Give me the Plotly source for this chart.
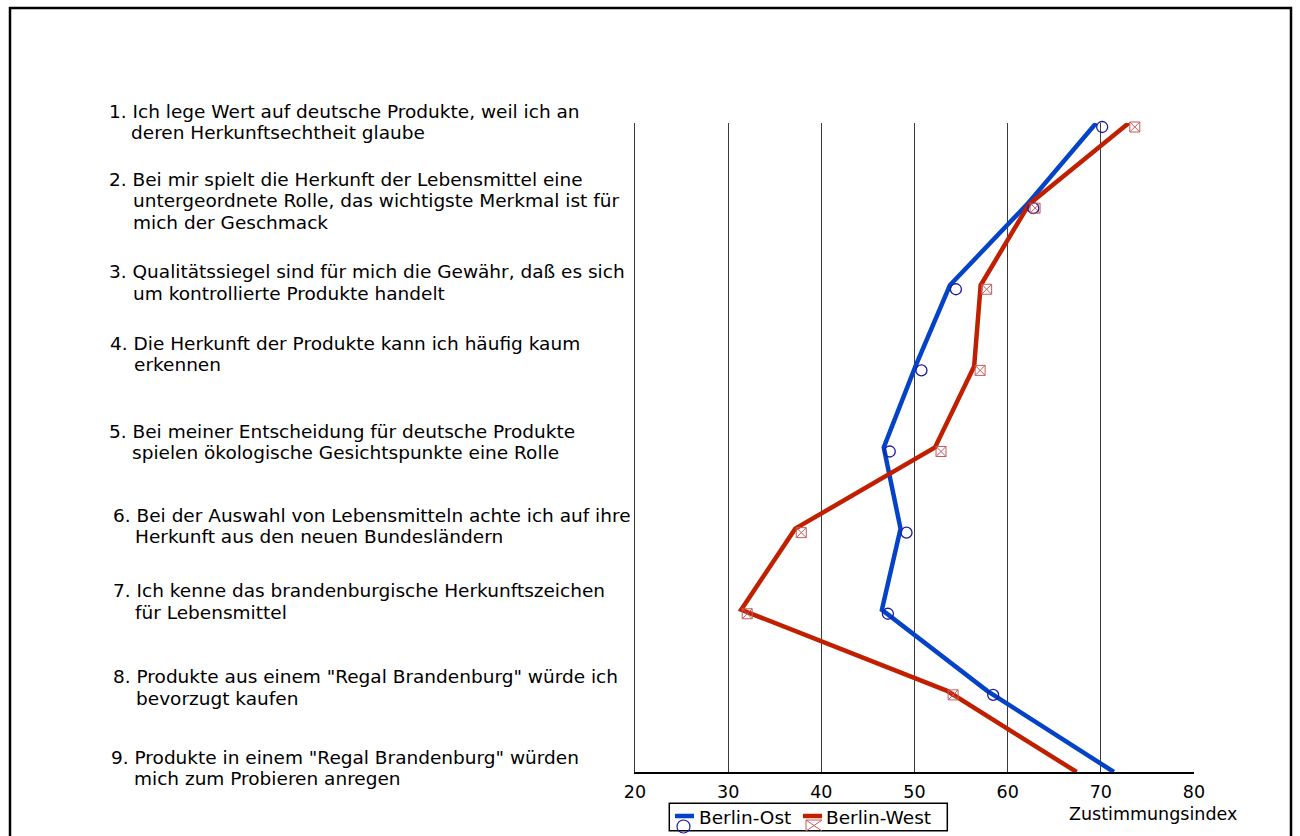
import plotly.graph_objects as go

# Statement numbers (plotted top to bottom) and agreement index per group
statement_no = [1, 2, 3, 4, 5, 6, 7, 8, 9]
berlin_ost = [69.5, 62.1, 53.8, 50.1, 46.7, 48.5, 46.5, 57.8, 71.4]
berlin_west = [73.0, 62.3, 57.1, 56.4, 52.2, 37.2, 31.4, 53.5, 67.4]
x_ticks = [20, 30, 40, 50, 60, 70, 80]
x_title = "Zustimmungsindex"
series_names = ["Berlin-Ost", "Berlin-West"]

statements = [
    ["1. Ich lege Wert auf deutsche Produkte, weil ich an", "deren Herkunftsechtheit glaube"],
    ["2. Bei mir spielt die Herkunft der Lebensmittel eine",
     "untergeordnete Rolle, das wichtigste Merkmal ist für", "mich der Geschmack"],
    ["3. Qualitätssiegel sind für mich die Gewähr, daß es sich", "um kontrollierte Produkte handelt"],
    ["4. Die Herkunft der Produkte kann ich häufig kaum", "erkennen"],
    ["5. Bei meiner Entscheidung für deutsche Produkte", "spielen ökologische Gesichtspunkte eine Rolle"],
    ["6. Bei der Auswahl von Lebensmitteln achte ich auf ihre", "Herkunft aus den neuen Bundesländern"],
    ["7. Ich kenne das brandenburgische Herkunftszeichen", "für Lebensmittel"],
    ["8. Produkte aus einem \"Regal Brandenburg\" würde ich", "bevorzugt kaufen"],
    ["9. Produkte in einem \"Regal Brandenburg\" würden", "mich zum Probieren anregen"],
]

# ---- layout geometry (pixels) ----
W, H = 1300, 836
L, R, T, B = 635, 106, 123, 64
PW, PH = W - L - R, H - T - B

def px_x(x):
    return (x - L) / PW

def px_y(y):
    return (H - B - y) / PH

FONT = "DejaVu Sans"
BLUE = "#0443c8"
RED = "#c01f00"
OST_MARK = "#1b1ba8"
WEST_MARK = "#c85a5a"
series_colors = [BLUE, RED]

# text block placement: first-line centre y, first-line x, continuation x
stmt_y = [111, 179, 271.7, 343.3, 431, 515, 590.7, 676.7, 757.3]
stmt_x = [106.7, 107.3, 107.3, 108.3, 106.7, 110.7, 110.7, 110.7, 108.7]
cont_x = [129, 130.7, 130.7, 131.7, 130, 133.3, 133.3, 134, 132.3]
line_gap = 21.5

fig = go.Figure()

for vals, name, col in zip([berlin_ost, berlin_west], series_names, series_colors):
    fig.add_trace(go.Scatter(x=vals, y=statement_no, mode="lines", name=name,
                             line=dict(color=col, width=4.5), cliponaxis=False))

# point markers sit slightly right of / below each vertex (drawn on offset overlay axes)
fig.add_trace(go.Scatter(x=berlin_ost, y=statement_no, mode="markers", showlegend=False,
                         xaxis="x2", yaxis="y2", cliponaxis=False,
                         marker=dict(symbol="circle-open", size=11, color=OST_MARK,
                                     line=dict(width=1.3, color=OST_MARK))))
fig.add_trace(go.Scatter(x=berlin_west, y=statement_no, mode="markers", showlegend=False,
                         xaxis="x2", yaxis="y2", cliponaxis=False,
                         marker=dict(symbol="square-x-open", size=10, color=WEST_MARK,
                                     line=dict(width=1, color=WEST_MARK))))

dx = 6 * 60 / PW
dy = 4 * 8 / PH

annotations = []
for i, lines in enumerate(statements):
    for j, txt in enumerate(lines):
        annotations.append(dict(
            x=px_x(stmt_x[i] if j == 0 else cont_x[i]), y=px_y(stmt_y[i] + j * line_gap),
            xref="paper", yref="paper", xanchor="left", yanchor="middle",
            text=txt, showarrow=False, font=dict(family=FONT, size=18.5, color="black")))

annotations.append(dict(x=px_x(1153.3), y=px_y(813.5), xref="paper", yref="paper",
                        xanchor="center", yanchor="middle", text=x_title, showarrow=False,
                        font=dict(family=FONT, size=17.5, color="black")))

shapes = [dict(type="rect", xref="paper", yref="paper",
               x0=px_x(10), x1=px_x(1291), y0=px_y(850), y1=px_y(8),
               line=dict(color="black", width=2.5), fillcolor="rgba(0,0,0,0)")]

# ---- legend box below the axis ----
leg_x0, leg_x1, leg_y0, leg_y1 = 669.3, 947.3, 803.3, 830.7
leg_mid = 817
shapes.append(dict(type="rect", xref="paper", yref="paper",
                   x0=px_x(leg_x0), x1=px_x(leg_x1), y0=px_y(leg_y1), y1=px_y(leg_y0),
                   line=dict(color="black", width=1.5), fillcolor="white"))
sample_x = [(675, 694), (803, 822)]
text_x = [697.3, 824]
for (sx0, sx1), tx, name, col in zip(sample_x, text_x, series_names, series_colors):
    shapes.append(dict(type="line", xref="paper", yref="paper",
                       x0=px_x(sx0), x1=px_x(sx1), y0=px_y(leg_mid - 1), y1=px_y(leg_mid - 1),
                       line=dict(color=col, width=4.5)))
    annotations.append(dict(x=px_x(tx), y=px_y(leg_mid), xref="paper", yref="paper",
                            xanchor="left", yanchor="middle", text=name, showarrow=False,
                            font=dict(family=FONT, size=18.5, color="black")))
# legend marker glyphs
shapes.append(dict(type="circle", xref="paper", yref="paper",
                   x0=px_x(677), x1=px_x(690), y0=px_y(833), y1=px_y(820),
                   line=dict(color=OST_MARK, width=1.2)))
gx0, gx1, gy0, gy1 = px_x(806), px_x(822), px_y(820), px_y(831)
shapes.append(dict(type="path", xref="paper", yref="paper",
                   path=f"M {gx0},{gy0} H {gx1} M {gx0},{gy0} V {gy1} "
                        f"M {gx0},{gy0} L {gx1},{gy1} M {gx1},{gy0} L {gx0},{gy1}",
                   line=dict(color=WEST_MARK, width=1)))

fig.update_layout(
    width=W, height=H,
    margin=dict(l=L, r=R, t=T, b=B, pad=0, autoexpand=False),
    paper_bgcolor="white", plot_bgcolor="white",
    showlegend=False,
    xaxis=dict(range=[20, 80], tickvals=x_ticks, showgrid=True, gridcolor="#3a3a3a", gridwidth=1,
               showline=True, linecolor="black", linewidth=2, zeroline=False,
               ticks="outside", ticklen=3, tickcolor="rgba(0,0,0,0)",
               tickfont=dict(family=FONT, size=17.5, color="black")),
    yaxis=dict(range=[9, 1], showgrid=False, showticklabels=False, zeroline=False,
               showline=True, linecolor="#3a3a3a", linewidth=1, ticks=""),
    xaxis2=dict(range=[20 - dx, 80 - dx], overlaying="x", visible=False),
    yaxis2=dict(range=[9 - dy, 1 - dy], overlaying="y", visible=False),
    annotations=annotations,
    shapes=shapes,
)

fig.write_html("out.html")
